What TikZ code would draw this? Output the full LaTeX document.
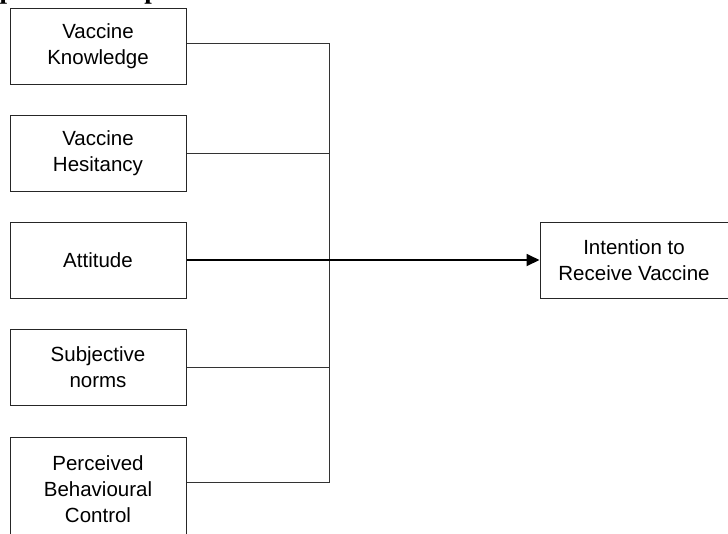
\documentclass[tikz,border=0pt]{standalone}
\usepackage{fontspec}
\setmainfont{Liberation Sans}
\newfontfamily\titlefont{Liberation Serif}
\usetikzlibrary{arrows.meta, positioning}

\begin{document}
\begin{tikzpicture}[
    x=1pt, y=1pt,
    node distance=30pt,
    box/.style={rectangle, draw=black!85, line width=1pt, minimum width=176pt, minimum height=76pt, align=center, inner sep=0pt, font=\fontsize{20.5}{26}\selectfont},
    link/.style={draw=black!80, line width=0.9pt},
    arrow/.style={-{Triangle[length=13pt, width=12pt]}, line width=1.8pt}
]
    \useasboundingbox (0,0) rectangle (728,-533);

    % Title (cut off at the top)
    \node[anchor=base west, inner sep=0pt, font=\titlefont\bfseries\fontsize{27}{30}\selectfont] (title) at (-42,1.5) {Proposed Conceptual Framework};

    % Factors
    \node[box] (know) at (98,-46) {Vaccine\\Knowledge};
    \node[box, below=of know] (hes) {Vaccine\\Hesitancy};
    \node[box, below=of hes] (att) {Attitude};
    \node[box, below=of att] (norms) {Subjective\\norms};
    \node[box, below=31pt of norms, minimum height=104pt] (pbc) {Perceived\\Behavioural\\Control};

    % Outcome
    \node[box, right=353pt of att, minimum width=188pt] (intent) {Intention to\\Receive Vaccine};

    % Junction
    \coordinate (bus) at (329,-258);

    % Lines
    \draw[link] ([yshift=3pt]know.east) -| (bus);
    \draw[link] (hes.east) -| (bus);
    \draw[link] (norms.east) -| (bus);
    \draw[link] ([yshift=7pt]pbc.east) -| (bus);
    \draw[arrow] (att) -- (intent);
\end{tikzpicture}
\end{document}
